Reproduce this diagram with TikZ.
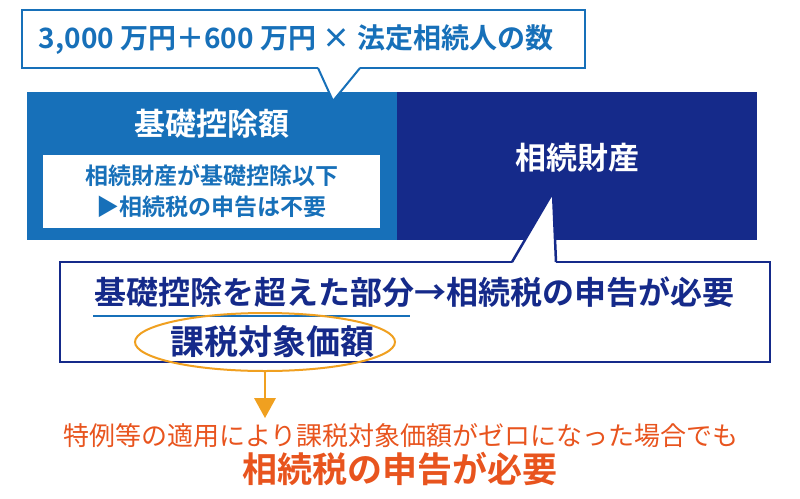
\documentclass[tikz,border=0pt]{standalone}
\usepackage{fontspec}
\setmainfont{Noto Sans CJK JP}[BoldFont={Noto Sans CJK JP Bold}]
\usetikzlibrary{positioning}
\definecolor{kiso}{HTML}{1770B9}
\definecolor{navy}{HTML}{152A8A}
\definecolor{orng}{HTML}{F0A020}
\definecolor{redo}{HTML}{E8541E}
\begin{document}
\begin{tikzpicture}[x=1pt,y=-1pt,>=latex]
\useasboundingbox (0,0) rectangle (800,498);
% the two blocks
\fill[kiso] (27,92) rectangle (397,240);
\fill[navy] (397,92) rectangle (757,240);
\node[white,font=\bfseries\fontsize{31}{34}\selectfont] (kisolbl) at (212,124) {基礎控除額};
\node[white,font=\bfseries\fontsize{31}{34}\selectfont] (zaisan) at (577,158) {相続財産};
\node[fill=white,minimum width=337pt,minimum height=73pt,align=center,text=kiso,
  font=\bfseries\fontsize{23}{31}\selectfont] (ika) at (211.5,191.5) {相続財産が基礎控除以下\\▶相続税の申告は不要};
% top callout
\draw[kiso,line width=2pt,fill=white] (22,10) rectangle (585,68);
\fill[white] (318,67) -- (333,101) -- (360,67) -- cycle;
\draw[kiso,line width=2pt] (318,68) -- (333,101) -- (360,68);
\node[text=kiso,font=\bfseries\fontsize{28}{32}\selectfont] (shiki) at (296,40) {3,000 万円＋600 万円 × 法定相続人の数};
% bottom callout
\draw[navy,line width=2.5pt,fill=white] (60,262) rectangle (770,362);
\fill[white] (512,263.5) -- (553,192) -- (556,263.5) -- cycle;
\draw[navy,line width=2.5pt] (512,262) -- (553,192) -- (556,262);
\node[text=navy,font=\bfseries\fontsize{32}{36}\selectfont] (choka) at (414,292) {基礎控除を超えた部分→相続税の申告が必要};
\draw[kiso,line width=2pt] (93,316) -- (410,316);
\node[text=navy,font=\bfseries\fontsize{34}{38}\selectfont] (kazei) at (272,342) {課税対象価額};
\draw[orng,line width=2pt] (265,342) ellipse (130pt and 29pt);
\coordinate (ellbot) at (265,371);
\coordinate (arrtip) at (265,418);
\draw[orng,line width=2pt] (ellbot) -- (265,400);
\fill[orng] (254,398) -- (276,398) -- (arrtip) -- cycle;
\node[text=redo,font=\fontsize{26}{30}\selectfont] (tokurei) at (401,436) {特例等の適用により課税対象価額がゼロになった場合でも};
\node[text=redo,font=\bfseries\fontsize{35}{38}\selectfont] (hitsuyo) at (400,469) {相続税の申告が必要};
\end{tikzpicture}
\end{document}
